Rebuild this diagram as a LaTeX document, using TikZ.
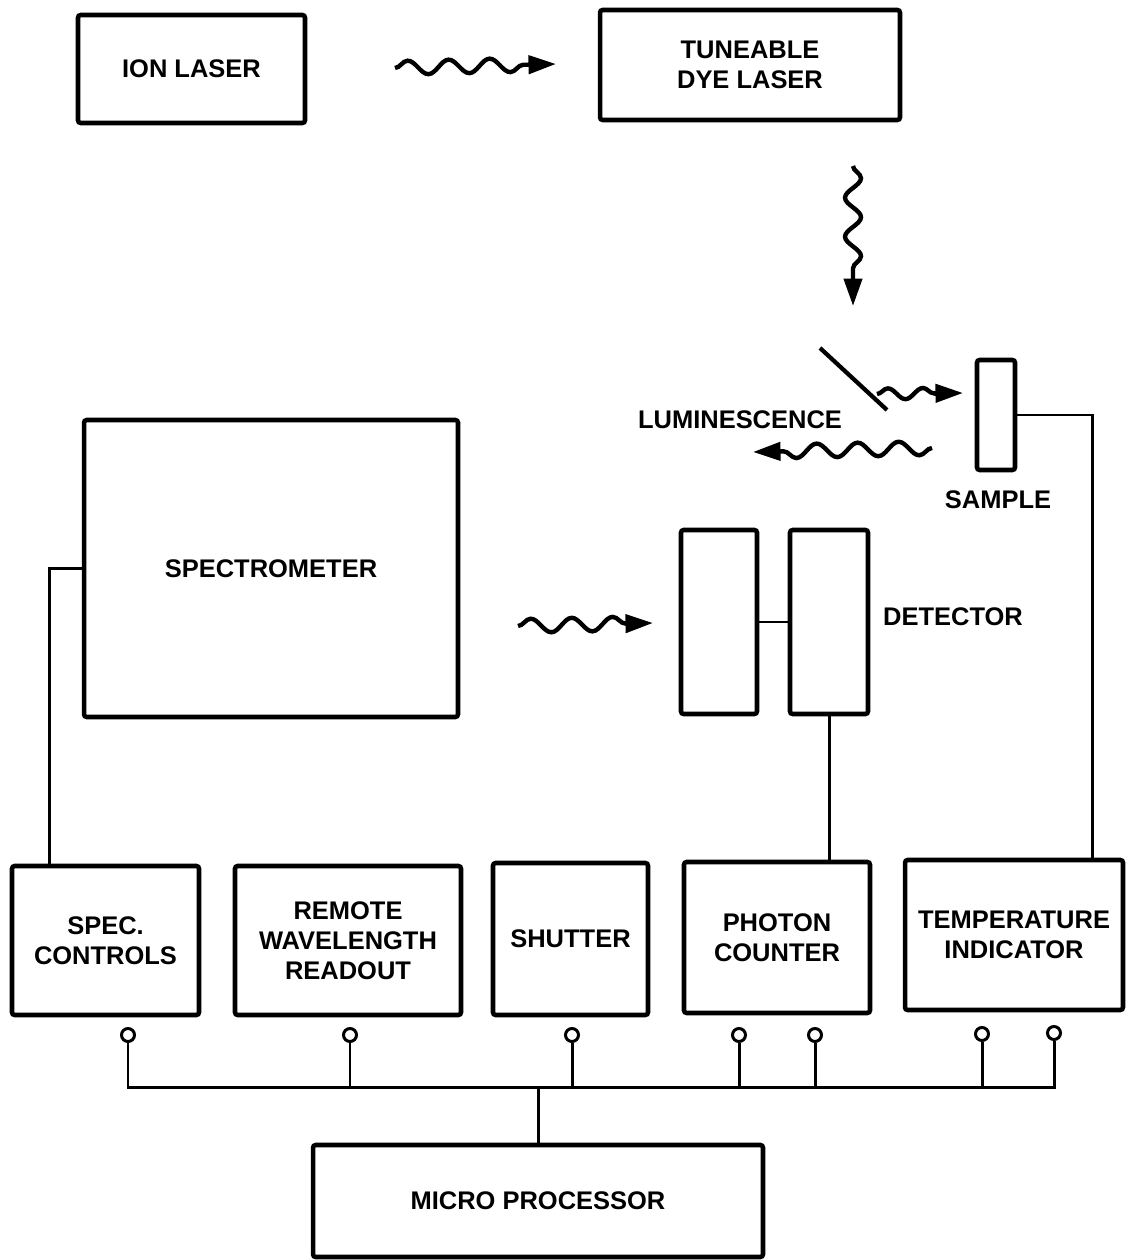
\documentclass[tikz,border=0pt]{standalone}
\usepackage{fontspec}
\setmainfont{Liberation Sans}
\usetikzlibrary{arrows.meta,decorations.pathmorphing}
\begin{document}
\begin{tikzpicture}[x=0.02cm,y=-0.02cm,
  txt/.style={font=\fontsize{14.5}{17}\selectfont\bfseries, align=center},
  box/.style={draw, line width=2.6pt, rounded corners=1.5pt, txt, inner sep=0pt},
  lbl/.style={txt, inner sep=0pt},
  wire/.style={line width=1.7pt},
  mirror/.style={line width=2.4pt},
  wave/.style={line width=2.5pt, decorate,
    decoration={snake, amplitude=0.14cm, segment length=0.82cm, post length=0.45cm},
    -{Triangle[length=0.55cm,width=0.36cm]}},
  pin/.style={circle, draw, line width=1.7pt, minimum size=0.26cm, inner sep=0pt}]
\useasboundingbox (0,0) rectangle (1127,1260);

% top lasers
\node[box, minimum width=4.54cm, minimum height=2.16cm] (ion) at (191.5,69) {ION LASER};
\node[box, minimum width=6cm, minimum height=2.2cm] (dye) at (750,65) {TUNEABLE\\DYE LASER};

% optics
\node[box, minimum width=0.76cm, minimum height=2.2cm] (sample) at (996,415) {};
\node[lbl] (samplelbl) at (998,500) {SAMPLE};
\node[lbl] (lumlbl) at (740,420) {LUMINESCENCE};
\coordinate (mA) at (820,348);
\coordinate (mB) at (887,410);
\draw[mirror] (mA) -- (mB);

% spectrometer and detector
\node[box, minimum width=7.48cm, minimum height=5.94cm] (spec) at (271,568.5) {SPECTROMETER};
\node[box, minimum width=1.52cm, minimum height=3.68cm] (det1) at (719,622) {};
\node[box, minimum width=1.56cm, minimum height=3.68cm] (det2) at (829,622) {};
\node[lbl] (detlbl) at (953,617) {DETECTOR};

% bottom row
\node[box, minimum width=3.74cm, minimum height=2.98cm] (ctl) at (105.5,940.5) {SPEC.\\CONTROLS};
\node[box, minimum width=4.52cm, minimum height=2.98cm] (remote) at (348,940.5) {REMOTE\\WAVELENGTH\\READOUT};
\node[box, minimum width=3.1cm, minimum height=3.04cm] (shutter) at (570.5,939) {SHUTTER};
\node[box, minimum width=3.72cm, minimum height=3.02cm] (photon) at (777,937.5) {PHOTON\\COUNTER};
\node[box, minimum width=4.36cm, minimum height=3.0cm] (temp) at (1014,935) {TEMPERATURE\\INDICATOR};
\node[box, minimum width=9cm, minimum height=2.24cm] (micro) at (538,1201) {MICRO PROCESSOR};

% wavy arrows
\coordinate (w1a) at (395,68);  \coordinate (w1b) at (556,64);
\coordinate (w2a) at (853,166); \coordinate (w2b) at (853,306);
\coordinate (w3a) at (877,394); \coordinate (w3b) at (963,393);
\coordinate (w4a) at (932,448); \coordinate (w4b) at (753,452);
\coordinate (w5a) at (518,626); \coordinate (w5b) at (653,623);
\draw[wave] (w1a) -- (w1b);
\draw[wave, decoration={snake, amplitude=0.16cm, segment length=0.78cm, post length=0.45cm}] (w2a) -- (w2b);
\draw[wave, decoration={snake, amplitude=0.11cm, segment length=0.7cm, post length=0.45cm}] (w3a) -- (w3b);
\draw[wave] (w4a) -- (w4b);
\draw[wave] (w5a) -- (w5b);

% wires
\draw[wire] (sample.east) -| ([xshift=-0.66cm]temp.north east);
\draw[wire] (spec.west) -| ([xshift=0.8cm]ctl.north west);
\draw[wire] (det1.east) -- (det2.west);
\draw[wire] (det2.south) -- (det2.south |- photon.north);

% pins and bus
\node[pin] (p1) at (128,1035) {};
\node[pin] (p2) at (350,1035) {};
\node[pin] (p3) at (572,1035) {};
\node[pin] (p4) at (739,1035) {};
\node[pin] (p5) at (815,1035) {};
\node[pin] (p6) at (982,1034) {};
\node[pin] (p7) at (1054,1033) {};
\coordinate (busL) at (128,1087);
\coordinate (busR) at (1054,1087);
\draw[wire] (p1.south) -- (p1.south |- busL) -- (busR) -- (p7.south);
\foreach \p in {p2,p3,p4,p5,p6} \draw[wire] (\p.south) -- (\p.south |- busL);
\draw[wire] (micro.north) -- (micro.north |- busL);
\end{tikzpicture}
\end{document}
